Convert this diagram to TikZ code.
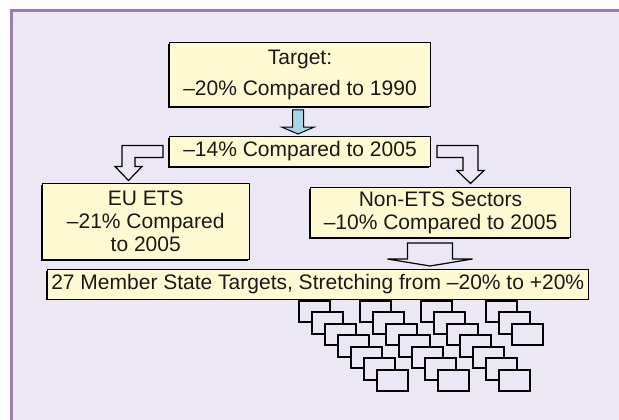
\documentclass[tikz,border=0pt]{standalone}
\usepackage{fontspec}
\setmainfont{Liberation Sans}
\usepackage{xcolor}
\usetikzlibrary{calc,shadows}

\definecolor{panelbg}{HTML}{EEE7F4}
\definecolor{innerbg}{HTML}{EBE7F4}
\definecolor{panelline}{HTML}{9A7FB4}
\definecolor{boxfill}{HTML}{FFFAD2}
\definecolor{arrowblue}{HTML}{A6D6E8}

\tikzset{
  goalbox/.style={draw=black, line width=1pt, fill=boxfill, align=center,
    anchor=north west, inner sep=0pt, text=black!90,
    font=\fontsize{21}{23}\selectfont,
    drop shadow={shadow xshift=-1.4pt, shadow yshift=-1.4pt, fill=black, opacity=1}},
  hollowarrow/.style={draw=black, line width=1.2pt, fill=innerbg},
  bluearrow/.style={draw=black, line width=1pt, fill=arrowblue},
  statebox/.style={draw=black, line width=2pt, fill=innerbg}
}

\begin{document}
\begin{tikzpicture}[x=1pt,y=-1pt]
            \useasboundingbox (0,0) rectangle (619,420);
            \fill [panelbg](11,10) rectangle (619,420);
            \fill [innerbg](42,42) rectangle (588,393);
            \draw [panelline, line width=2.8pt](11.4,420)--(11.4,10.3)--(619,10.3);

            \node [goalbox, minimum width=261, minimum height=64,
              font=\fontsize{21}{31}\selectfont] (target) at (169,42) {Target:\\–20\% Compared to 1990};
            \node [goalbox, minimum width=261, minimum height=30] (cut) at (169,136) {–14\% Compared to 2005};
            \node [goalbox, minimum width=207.5, minimum height=76] (ets) at (41.5,183) {EU ETS\\–21\% Compared\\to 2005};
            \node [goalbox, minimum width=260, minimum height=50] (nonets) at (310,187) {Non-ETS Sectors\\–10\% Compared to 2005};
            \node [goalbox, minimum width=541.5, minimum height=29.5] (member) at (46.5,269) {27 Member State Targets, Stretching from –20\% to +20\%};

            \begin{scope}[shift={($(target.south)+(-2,0)$)}]
            \draw [bluearrow](-5.5,3)--(5.5,3)--(5.5,20)--(16.5,20)--(0,27)--(-16.5,20)--(-5.5,20)--cycle;
            \end{scope}
            \begin{scope}[shift={(cut.west)}]
            \draw [hollowarrow](-6,-6)--(-47,-6)--(-47,15)--(-54,15)--(-40.5,29)--(-27,15)--(-34,15)--(-34,6)--(-6,6)--cycle;
            \end{scope}
            \begin{scope}[shift={(cut.east)}]
            \draw [hollowarrow](6,-6)--(47,-6)--(47,19)--(53,19)--(39.5,32)--(26,19)--(32,19)--(32,6)--(6,6)--cycle;
            \end{scope}
            \begin{scope}[shift={(nonets.south)}]
            \draw [hollowarrow](-33,5)--(12,5)--(12,21)--(32,21)--(-10.5,28)--(-53,21)--(-33,21)--cycle;
            \end{scope}

            \draw [statebox](299,300.5) rectangle ++(31,21.5);
            \draw [statebox](312,312) rectangle ++(31,21.5);
            \draw [statebox](325,323.5) rectangle ++(31,21.5);
            \draw [statebox](338,335) rectangle ++(31,21.5);
            \draw [statebox](351,346.5) rectangle ++(31,21.5);
            \draw [statebox](364,358) rectangle ++(31,21.5);
            \draw [statebox](377,369.5) rectangle ++(31,21.5);
            \draw [statebox](360,300.5) rectangle ++(31,21.5);
            \draw [statebox](373,312) rectangle ++(31,21.5);
            \draw [statebox](386,323.5) rectangle ++(31,21.5);
            \draw [statebox](399,335) rectangle ++(31,21.5);
            \draw [statebox](412,346.5) rectangle ++(31,21.5);
            \draw [statebox](425,358) rectangle ++(31,21.5);
            \draw [statebox](438,369.5) rectangle ++(31,21.5);
            \draw [statebox](421,300.5) rectangle ++(31,21.5);
            \draw [statebox](434,312) rectangle ++(31,21.5);
            \draw [statebox](447,323.5) rectangle ++(31,21.5);
            \draw [statebox](460,335) rectangle ++(31,21.5);
            \draw [statebox](473,346.5) rectangle ++(31,21.5);
            \draw [statebox](486,358) rectangle ++(31,21.5);
            \draw [statebox](499,369.5) rectangle ++(31,21.5);
            \draw [statebox](486,300.5) rectangle ++(31,21.5);
            \draw [statebox](499,312) rectangle ++(31,21.5);
            \draw [statebox](512,323.5) rectangle ++(31,21.5);
\end{tikzpicture}
\end{document}
